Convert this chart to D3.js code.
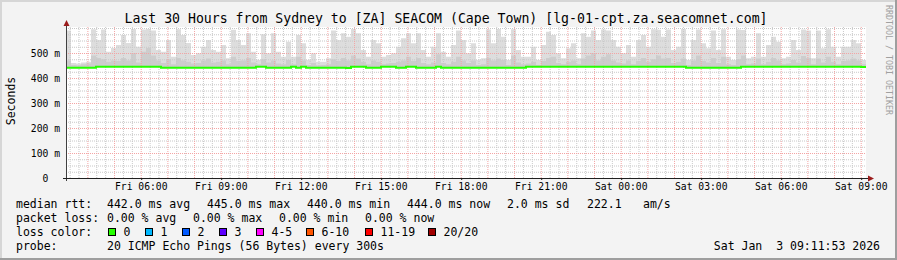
<!DOCTYPE html>
<html>
<head>
<meta charset="utf-8">
<script src="https://cdn.jsdelivr.net/npm/d3@7"></script>
<style>
  body { margin: 0; background: #f3f3f3; }
  svg { display: block; font-family: "DejaVu Sans Mono", monospace; }
  text { white-space: pre; }
</style>
</head>
<body>
<div id="smokeping"></div>
<script>
// Time range of the graph (UTC stands in for the local clock of the source)
var startTime = new Date(Date.UTC(2026, 0, 2, 3, 11, 53));
var endTime = new Date(Date.UTC(2026, 0, 3, 9, 11, 53));
var stepSeconds = 675;

// Median round trip time per step, in ms
var medianRtt = [
  441,441,441,441,441,441,445,445,445,445, 445,445,445,445,445,445,445,445,445,441,
  441,441,441,441,441,441,441,441,441,441, 441,441,441,441,441,441,441,441,445,445,
  441,441,441,441,441,445,441,445,441,441, 441,441,441,441,441,441,440,445,445,445,
  441,441,441,445,445,445,441,441,445,445, 441,441,441,441,445,441,441,441,441,441,
  441,441,441,441,441,441,441,441,441,441, 441,441,445,445,445,445,445,445,445,445,
  445,445,445,445,445,445,445,445,445,445, 445,445,445,445,445,445,445,445,445,445,
  445,445,445,445,441,441,441,441,441,441, 441,441,441,441,441,445,445,445,445,445,
  445,445,445,445,445,445,445,445,445,445, 445,445,445,445,445,445,445,445,445,444
];

// Highest ping per step (outer smoke), in ms
var smokeMax = [
  590,460,458,462,465,595,552,594,505,520, 532,572,540,596,525,594,596,590,512,505,
  552,485,595,572,540,492,499,525,552,512, 505,532,479,593,552,532,579,505,472,575,
  499,579,505,485,545,485,572,539,472,499, 465,465,479,590,552,579,565,596,579,512,
  485,552,539,485,492,499,525,559,579,539, 579,512,485,525,579,505,485,532,590,552,
  499,539,472,479,594,539,596,565,472,595, 512,485,485,525,472,532,585,572,499,479,
  519,539,479,579,565,590,552,594,590,552, 525,499,532,485,552,572,525,595,593,565,
  594,512,525,596,472,552,594,539,519,590, 512,595,485,472,594,592,479,485,579,485,
  532,565,545,479,485,552,512,594,590,479, 590,519,595,525,485,525,525,552,539,472
];

// Upper edge of the dense inner smoke per step, in ms
var smokeDark = [
  470,452,450,455,458,490,480,475,465,470, 468,480,470,500,462,505,520,490,470,460,
  475,455,480,470,465,458,460,470,478,462, 465,470,455,485,468,470,480,462,455,475,
  462,470,458,455,472,455,485,470,452,460, 450,452,455,475,468,480,470,490,478,465,
  455,470,465,455,458,460,465,470,485,468, 480,460,455,462,495,460,455,465,485,470,
  460,470,452,455,480,470,478,472,452,490, 462,455,458,465,452,468,480,485,460,455,
  465,470,455,478,490,500,470,485,495,470, 462,458,470,455,468,480,465,475,490,478,
  480,460,465,478,452,470,490,468,462,480, 460,485,455,452,475,490,455,458,478,455,
  465,480,470,455,458,472,462,488,480,455, 478,462,485,465,455,468,470,478,470,455
];

var yTicks = [0, 100, 200, 300, 400, 500];
var yTickLabels = ["0  ", "100 m", "200 m", "300 m", "400 m", "500 m"];
var xTickLabels = ["Fri 06:00", "Fri 09:00", "Fri 12:00", "Fri 15:00", "Fri 18:00",
                   "Fri 21:00", "Sat 00:00", "Sat 03:00", "Sat 06:00", "Sat 09:00"];

var rttStats = ["442.0 ms avg", "445.0 ms max", "440.0 ms min", "444.0 ms now", "2.0 ms sd", "222.1", "am/s"];
var lossStats = ["0.00 % avg", "0.00 % max", "0.00 % min", "0.00 % now"];
var lossLabels = ["0", "1", "2", "3", "4-5", "6-10", "11-19", "20/20"];
var lossColors = ["#26ff00", "#00b8ff", "#0059ff", "#5e00ff", "#ff00fe", "#ff5500", "#ff0000", "#a10000"];

var W = 897, H = 260;
var plot = {left: 66, right: 866, top: 27, bottom: 178};

var svg = d3.select("#smokeping").append("svg")
  .attr("width", W)
  .attr("height", H);

// Background and the 3D frame rrdtool draws
svg.append("rect").attr("width", W).attr("height", H).attr("fill", "#f3f3f3");
svg.append("path").attr("d", "M0,1H" + W + "M1,0V" + H)
  .attr("stroke", "#d6d6d6").attr("stroke-width", 2);
svg.append("path").attr("d", "M0," + (H - 1) + "H" + W + "M" + (W - 1) + ",0V" + H)
  .attr("stroke", "#9e9e9e").attr("stroke-width", 2);

// Scales
var x = d3.scaleTime().domain([startTime, endTime]).range([plot.left, plot.right]);
var y = d3.scaleLinear().domain([0, 604]).range([plot.bottom, plot.top]);

var steps = medianRtt.map(function (d, i) {
  return {
    t0: new Date(startTime.getTime() + i * stepSeconds * 1000),
    t1: new Date(startTime.getTime() + (i + 1) * stepSeconds * 1000),
    median: d,
    max: smokeMax[i],
    dark: smokeDark[i]
  };
});

// White canvas
svg.append("rect")
  .attr("x", plot.left).attr("y", plot.top)
  .attr("width", plot.right - plot.left).attr("height", plot.bottom - plot.top)
  .attr("fill", "#ffffff");

// Smoke: light outer band then a slightly darker band near the median
var smoke = svg.append("g").attr("class", "smoke");
smoke.selectAll("rect.outer")
  .data(steps)
  .enter().append("rect")
  .attr("class", "outer")
  .attr("x", function (d) { return x(d.t0); })
  .attr("width", function (d) { return x(d.t1) - x(d.t0); })
  .attr("y", function (d) { return y(d.max); })
  .attr("height", function (d) { return y(d.median) - y(d.max); })
  .attr("fill", "#dddddd");
smoke.selectAll("rect.inner")
  .data(steps)
  .enter().append("rect")
  .attr("class", "inner")
  .attr("x", function (d) { return x(d.t0); })
  .attr("width", function (d) { return x(d.t1) - x(d.t0); })
  .attr("y", function (d) { return y(d.dark); })
  .attr("height", function (d) { return y(d.median) - y(d.dark); })
  .attr("fill", "#cdcdcd");

// Grid: dotted gray minor lines, dotted red major lines
var grid = svg.append("g").attr("class", "grid");
var hourTicks = d3.utcHour.every(1).range(startTime, endTime);
var minorX = d3.utcMinute.every(20).range(startTime, endTime).filter(function (t) {
  return t.getUTCMinutes() !== 0;
});
var minorY = d3.range(25, 601, 25).filter(function (v) { return v % 100 !== 0 || v === 600; });

grid.append("g")
  .attr("transform", "translate(0," + plot.bottom + ")")
  .call(d3.axisBottom(x).tickValues(minorX).tickSize(plot.top - plot.bottom).tickFormat(""));
grid.append("g")
  .attr("transform", "translate(" + plot.left + ",0)")
  .call(d3.axisLeft(y).tickValues(minorY).tickSize(plot.left - plot.right).tickFormat(""));
grid.selectAll("line").attr("stroke", "#c8c8c8").attr("stroke-dasharray", "1,1");

var major = svg.append("g").attr("class", "major");
major.append("g")
  .attr("transform", "translate(0," + plot.bottom + ")")
  .call(d3.axisBottom(x).tickValues(hourTicks).tickSize(plot.top - plot.bottom).tickFormat(""));
major.append("g")
  .attr("transform", "translate(" + plot.left + ",0)")
  .call(d3.axisLeft(y).tickValues(yTicks.slice(1)).tickSize(plot.left - plot.right).tickFormat(""));
major.selectAll("line").attr("stroke", "#f4a4a4").attr("stroke-dasharray", "1,1");
svg.selectAll(".grid path, .major path").remove();

// Median line coloured by packet loss (all 0% here)
var lineData = steps.map(function (d) { return {t: d.t0, v: d.median}; });
lineData.push({t: endTime, v: medianRtt[medianRtt.length - 1]});
svg.append("path")
  .datum(lineData)
  .attr("fill", "none")
  .attr("stroke", lossColors[0])
  .attr("stroke-width", 2)
  .attr("d", d3.line()
    .x(function (d) { return x(d.t); })
    .y(function (d) { return y(d.v); })
    .curve(d3.curveStepAfter));

// Axes with arrows
svg.append("line")
  .attr("x1", plot.left + 0.5).attr("x2", plot.left + 0.5)
  .attr("y1", plot.bottom + 3).attr("y2", plot.top - 3)
  .attr("stroke", "#404040");
svg.append("line")
  .attr("x1", plot.left - 3).attr("x2", plot.right + 3)
  .attr("y1", plot.bottom + 0.5).attr("y2", plot.bottom + 0.5)
  .attr("stroke", "#202020");
svg.append("path")
  .attr("d", "M" + (plot.left - 2.5) + "," + (plot.top - 1) + "L" + (plot.left + 3.5) + "," + (plot.top - 1) +
    "L" + (plot.left + 0.5) + "," + (plot.top - 7) + "Z")
  .attr("fill", "#9b1c1c");
svg.append("path")
  .attr("d", "M" + (plot.right + 2) + "," + (plot.bottom - 2.5) + "L" + (plot.right + 2) + "," + (plot.bottom + 3.5) +
    "L" + (plot.right + 8) + "," + (plot.bottom + 0.5) + "Z")
  .attr("fill", "#9b1c1c");

// Tick labels
var xAxis = svg.append("g")
  .attr("transform", "translate(0," + plot.bottom + ")")
  .call(d3.axisBottom(x)
    .tickValues(d3.utcHour.every(3).range(new Date(Date.UTC(2026, 0, 2, 6)), endTime))
    .tickSize(2)
    .tickPadding(3.5)
    .tickFormat(function (d, i) { return xTickLabels[i]; }));
xAxis.select(".domain").remove();
xAxis.selectAll("line").attr("stroke", "#202020").attr("transform", "translate(0.5,0)");
xAxis.selectAll("text").attr("font-size", 9.7).attr("fill", "#000").attr("font-family", "DejaVu Sans Mono");

var yAxis = svg.append("g")
  .attr("transform", "translate(" + plot.left + ",0)")
  .call(d3.axisLeft(y)
    .tickValues(yTicks)
    .tickSize(0)
    .tickPadding(6)
    .tickFormat(function (d, i) { return yTickLabels[i]; }));
yAxis.select(".domain").remove();
yAxis.selectAll("text").attr("font-size", 9.7).attr("fill", "#000").attr("font-family", "DejaVu Sans Mono");

// Title and side texts
svg.append("text")
  .attr("x", 446).attr("y", 23)
  .attr("text-anchor", "middle")
  .attr("font-size", 13.2)
  .text("Last 30 Hours from Sydney to [ZA] SEACOM (Cape Town) [lg-01-cpt.za.seacomnet.com]");

svg.append("text")
  .attr("transform", "translate(15,101) rotate(-90)")
  .attr("text-anchor", "middle")
  .attr("font-size", 11.5)
  .text("Seconds");

svg.append("text")
  .attr("transform", "translate(886,5) rotate(90)")
  .attr("font-size", 8.3)
  .attr("fill", "#a0a0a0")
  .text("RRDTOOL / TOBI OETIKER");

// Legend
var legend = svg.append("g").attr("font-size", 11.5).attr("fill", "#000");
var row1 = [16, 107, 207, 307, 407, 507, 587, 643];
var row2 = [16, 107, 193, 279, 365];
legend.append("text").attr("x", row1[0]).attr("y", 207.5).text("median rtt:");
rttStats.forEach(function (s, i) {
  legend.append("text").attr("x", row1[i + 1]).attr("y", 207.5).text(s);
});
legend.append("text").attr("x", row2[0]).attr("y", 221.5).text("packet loss:");
lossStats.forEach(function (s, i) {
  legend.append("text").attr("x", row2[i + 1]).attr("y", 221.5).text(s);
});
legend.append("text").attr("x", 16).attr("y", 235.5).text("loss color:");
var boxX = [108.5, 145.5, 182.5, 219.5, 256.5, 306.5, 365.5, 428.5];
lossLabels.forEach(function (s, i) {
  legend.append("rect")
    .attr("x", boxX[i]).attr("y", 228.5)
    .attr("width", 7).attr("height", 7)
    .attr("fill", lossColors[i])
    .attr("stroke", "#000");
  legend.append("text").attr("x", boxX[i] + 15).attr("y", 235.5).text(s);
});
legend.append("text").attr("x", 16).attr("y", 249.5).text("probe:");
legend.append("text").attr("x", 107).attr("y", 249.5).text("20 ICMP Echo Pings (56 Bytes) every 300s");
legend.append("text").attr("x", 880).attr("y", 249.5).attr("text-anchor", "end").text("Sat Jan  3 09:11:53 2026");
</script>
</body>
</html>
